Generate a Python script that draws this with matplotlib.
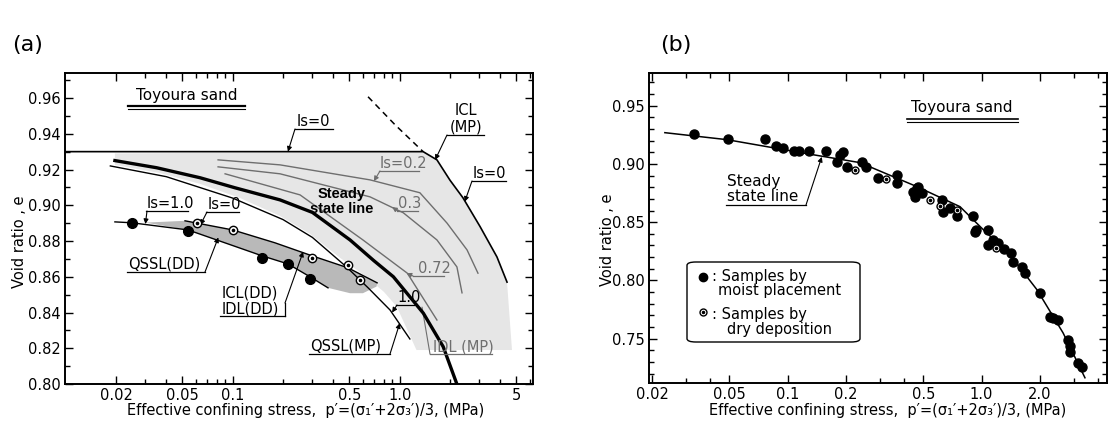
import matplotlib
matplotlib.use("Agg")
import matplotlib.pyplot as plt
from matplotlib.lines import Line2D
from matplotlib.patches import FancyBboxPatch
from matplotlib.ticker import FixedLocator, FixedFormatter, NullFormatter

plt.rcParams['font.family'] = ['DejaVu Sans']

W, H = 1110, 423

# ---------- (a) moist placement (MP) / dry deposition (DD) ----------
# ICL(MP): flat Is=0 line at e=0.93, then the curved part
icl_mp_p = [0.0099, 1.38, 1.67, 2.00, 2.39, 3.03, 3.82, 4.39]
icl_mp_e = [0.930, 0.930, 0.9254, 0.914, 0.9042, 0.888, 0.8711, 0.857]
icl_dash_p = [0.646, 0.938, 1.38]
icl_dash_e = [0.9607, 0.945, 0.930]

# steady state line
ssl_a_p = [0.0197, 0.035, 0.0637, 0.103, 0.192, 0.30, 0.504, 0.70, 0.916, 1.385, 1.82, 2.19]
ssl_a_e = [0.925, 0.921, 0.9154, 0.9098, 0.903, 0.896, 0.8806, 0.869, 0.860, 0.8396, 0.8209, 0.8004]

# QSSL(MP)
qssl_mp_p = [0.0185, 0.04, 0.1, 0.2, 0.3, 0.48, 0.65, 0.875, 1.15]
qssl_mp_e = [0.922, 0.916, 0.904, 0.892, 0.882, 0.8655, 0.8536, 0.8414, 0.8252]

# constant Is curves (MP)
is02_p = [0.0817, 0.192, 0.664, 1.32, 1.92, 2.53, 2.94]
is02_e = [0.9254, 0.9226, 0.9142, 0.907, 0.890, 0.875, 0.862]
is03_p = [0.0817, 0.192, 0.664, 1.05, 1.67, 2.20, 2.36]
is03_e = [0.9215, 0.9176, 0.9047, 0.8958, 0.8806, 0.8655, 0.851]
is072_p = [0.090, 0.253, 0.602, 1.11, 1.67]
is072_e = [0.9176, 0.9058, 0.8806, 0.862, 0.8358]

# MP zone between Is=0 and Is=1.0
mp_zone_p = [0.0197, 1.38, 1.67, 2.00, 2.39, 3.03, 3.82, 4.39, 4.70, 1.26, 0.96,
             0.805, 0.620, 0.439, 0.290, 0.192, 0.111, 0.0637, 0.0367, 0.0197]
mp_zone_e = [0.929, 0.930, 0.9254, 0.914, 0.9042, 0.888, 0.8711, 0.857, 0.819, 0.819, 0.8433,
             0.8515, 0.8605, 0.8706, 0.884, 0.894, 0.904, 0.912, 0.918, 0.9226]

# DD lines: Is=0 (upper) and Is=1.0 (lower)
dd_upper_p = [0.0518, 0.100, 0.179, 0.299, 0.49, 0.732]
dd_upper_e = [0.8913, 0.8862, 0.879, 0.8717, 0.865, 0.8566]
dd_lower_p = [0.0197, 0.0249, 0.054, 0.150, 0.214, 0.290, 0.372]
dd_lower_e = [0.8907, 0.8902, 0.8862, 0.8717, 0.8672, 0.860, 0.8538]
dd_band_p = [0.030, 0.0518, 0.100, 0.179, 0.299, 0.49, 0.732, 0.726, 0.602, 0.504,
             0.372, 0.290, 0.214, 0.150, 0.054, 0.030]
dd_band_e = [0.8903, 0.8913, 0.8862, 0.879, 0.8717, 0.865, 0.8566, 0.8545, 0.8508, 0.8508,
             0.8538, 0.860, 0.8672, 0.8717, 0.8862, 0.8903]

# test points
dd_fill_p = [0.0249, 0.054, 0.150, 0.214, 0.290]
dd_fill_e = [0.890, 0.8857, 0.8706, 0.8672, 0.8588]
dd_open_p = [0.061, 0.100, 0.299, 0.49, 0.578]
dd_open_e = [0.8902, 0.8862, 0.8706, 0.8666, 0.8582]

a_xticks = [0.02, 0.05, 0.1, 0.5, 1, 5]
a_xlabels = ['0.02', '0.05', '0.1', '0.5', '1.0', '5']
a_xminor = [0.03, 0.04, 0.06, 0.07, 0.08, 0.09, 0.2, 0.3, 0.4, 0.6, 0.7, 0.8, 0.9, 2, 3, 4, 6]
a_yticks = [0.80, 0.82, 0.84, 0.86, 0.88, 0.90, 0.92, 0.94, 0.96]

# ---------- (b) steady state line ----------
ssl_b_p = [0.0233, 0.0487, 0.135, 0.236, 0.464, 0.774, 1.0, 1.40, 1.93, 2.63, 3.41]
ssl_b_e = [0.9268, 0.9208, 0.9079, 0.9011, 0.8805, 0.8633, 0.845, 0.822, 0.792, 0.755, 0.7165]

moist_p = [0.0329, 0.0493, 0.0764, 0.0871, 0.0946, 0.108, 0.114, 0.129, 0.158, 0.180,
           0.186, 0.193, 0.202, 0.242, 0.254, 0.292, 0.366, 0.368, 0.443, 0.464,
           0.470, 0.452, 0.493, 0.625, 0.632, 0.687, 0.747, 0.903, 0.924, 0.935,
           1.08, 1.08, 1.15, 1.22, 1.30, 1.42, 1.45, 1.61, 1.67, 2.00,
           2.25, 2.33, 2.48, 2.79, 2.86, 2.86, 3.14, 3.29]
moist_e = [0.926, 0.9217, 0.9217, 0.9157, 0.914, 0.9114, 0.9114, 0.9114, 0.9114, 0.902,
           0.908, 0.910, 0.8976, 0.902, 0.8976, 0.888, 0.8908, 0.884, 0.8762, 0.8796,
           0.8805, 0.8719, 0.8753, 0.8693, 0.859, 0.8625, 0.8556, 0.8556, 0.8418, 0.8436,
           0.8436, 0.8307, 0.835, 0.8324, 0.8273, 0.8238, 0.816, 0.8118, 0.8067, 0.7895,
           0.7689, 0.768, 0.7663, 0.7491, 0.744, 0.7388, 0.7294, 0.726]
dry_p = [0.222, 0.321, 0.542, 0.611, 0.747, 1.19]
dry_e = [0.895, 0.8873, 0.8693, 0.8642, 0.8607, 0.8281]

b_xticks = [0.02, 0.05, 0.1, 0.2, 0.5, 1, 2]
b_xlabels = ['0.02', '0.05', '0.1', '0.2', '0.5', '1.0', '2.0']
b_xminor = [0.03, 0.04, 0.3, 0.4, 3, 4]
b_yticks = [0.75, 0.80, 0.85, 0.90, 0.95]

LIGHT = '#e6e6e6'
DARK = '#b9b9b9'
GREY = '#6e6e6e'
FS = 10.5
XLABEL = "Effective confining stress,  p\u2032=(\u03c3\u2081\u2032+2\u03c3\u2083\u2032)/3, (MPa)"

fig = plt.figure(figsize=(W / 100, H / 100), dpi=100)


def fxy(x, y):
    return x / W, 1 - y / H


def hline(x0, x1, y, color='k', lw=0.9):
    fig.add_artist(Line2D([x0 / W, x1 / W], [1 - y / H] * 2,
                          transform=fig.transFigure, color=color, lw=lw))


def leader(ax, start, tip, color='k', head=True):
    ax.annotate('', xy=tip, xycoords='data', xytext=fxy(*start),
                textcoords='figure fraction',
                arrowprops=dict(arrowstyle='-|>' if head else '-', color=color, lw=0.8,
                                mutation_scale=7, shrinkA=0, shrinkB=0))


def tag(ax, text, x, y, ux, uy, start, tip, color='k', head=True):
    fig.text(*fxy(x, y), text, ha='left', va='baseline', fontsize=FS, color=color)
    hline(ux[0], ux[1], uy, color=color)
    leader(ax, start, tip, color, head)


def setup(ax, xlim, ylim, xt, xl, xm, yt, ylab):
    ax.set_xscale('log')
    ax.set_xlim(*xlim)
    ax.set_ylim(*ylim)
    ax.xaxis.set_major_locator(FixedLocator(xt))
    ax.xaxis.set_major_formatter(FixedFormatter(xl))
    ax.xaxis.set_minor_locator(FixedLocator(xm))
    ax.xaxis.set_minor_formatter(NullFormatter())
    ax.yaxis.set_major_locator(FixedLocator(yt))
    ax.yaxis.set_major_formatter(FixedFormatter(ylab))
    step = 0.01
    n0 = int(round(ylim[0] / step)) + 1
    n1 = int(round(ylim[1] / step))
    ax.yaxis.set_minor_locator(FixedLocator([i * step for i in range(n0, n1 + 1)]))
    ax.tick_params(which='both', direction='in', top=True, right=True, labelsize=FS, width=1)
    ax.tick_params(which='major', length=6, pad=3)
    ax.tick_params(which='minor', length=3.5)
    for s in ax.spines.values():
        s.set_linewidth(1.4)


def open_dots(ax, p, e, ms):
    ax.plot(p, e, 'o', ms=ms, mfc='white', mec='k', mew=1.0, zorder=6)
    ax.plot(p, e, 'o', ms=1.6, mfc='k', mec='k', zorder=7)


# ======================= panel (a) =======================
ax = fig.add_axes([65 / W, 1 - 384 / H, 468 / W, 311 / H])
setup(ax, (0.0099, 6.28), (0.80, 0.974), a_xticks, a_xlabels, a_xminor,
      a_yticks, ['%.2f' % v for v in a_yticks])

ax.fill(mp_zone_p, mp_zone_e, color=LIGHT, lw=0, zorder=1)
ax.fill(dd_band_p, dd_band_e, color=DARK, lw=0, zorder=2)
for p, e in [(is02_p, is02_e), (is03_p, is03_e), (is072_p, is072_e)]:
    ax.plot(p, e, color=GREY, lw=1.0, zorder=3)
ax.plot(icl_mp_p, icl_mp_e, color='k', lw=1.2, zorder=4)
ax.plot(icl_dash_p, icl_dash_e, color='k', lw=1.1, ls=(0, (4, 3)), zorder=4)
ax.plot(ssl_a_p, ssl_a_e, color='k', lw=2.4, zorder=4)
ax.plot(qssl_mp_p, qssl_mp_e, color='k', lw=1.0, zorder=4)
ax.plot(dd_upper_p, dd_upper_e, color='k', lw=1.0, zorder=4)
ax.plot(dd_lower_p, dd_lower_e, color='k', lw=1.0, zorder=4)
ax.plot(dd_fill_p, dd_fill_e, 'o', ms=7, color='k', zorder=6)
open_dots(ax, dd_open_p, dd_open_e, 6)

fig.text(*fxy(187, 100), 'Toyoura sand', ha='center', va='baseline', fontsize=FS + 0.5)
hline(128, 245, 106, lw=1.6)
hline(128, 245, 109, lw=0.8)

tag(ax, 'Is=0', 297, 126, (295, 333), 129, (295, 129), (0.214, 0.930))
fig.text(*fxy(466, 115), 'ICL', ha='center', va='baseline', fontsize=FS)
fig.text(*fxy(466, 132), '(MP)', ha='center', va='baseline', fontsize=FS)
hline(447, 484, 135)
leader(ax, (447, 135), (1.63, 0.9254))
tag(ax, 'Is=0', 473, 178, (472, 506), 181, (472, 181), (2.45, 0.902))
tag(ax, 'Is=0.2', 380, 168, (379, 419), 171, (380, 171), (0.70, 0.9135), GREY)
tag(ax, '0.3', 398, 208, (397, 418), 211, (398, 211), (0.90, 0.899), GREY)
fig.text(*fxy(342, 198), 'Steady', ha='center', va='baseline', fontsize=10.5,
         fontweight='bold', family='Liberation Sans')
fig.text(*fxy(342, 213), 'state line', ha='center', va='baseline', fontsize=10.5,
         fontweight='bold', family='Liberation Sans')
tag(ax, 'Is=1.0', 147, 208, (146, 188), 211, (147, 211), (0.030, 0.8895))
tag(ax, 'Is=0', 208, 209, (206, 239), 212, (207, 212), (0.064, 0.889))
tag(ax, 'QSSL(DD)', 128, 268, (127, 205), 272, (205, 272), (0.082, 0.882))
fig.text(*fxy(222, 297), 'ICL(DD)', ha='left', va='baseline', fontsize=FS)
fig.text(*fxy(222, 313), 'IDL(DD)', ha='left', va='baseline', fontsize=FS)
hline(220, 285, 316)
fig.add_artist(Line2D([285 / W] * 2, [1 - 316 / H, 1 - 303 / H],
                      transform=fig.transFigure, color='k', lw=0.9))
leader(ax, (285, 303), (0.264, 0.874))
tag(ax, '1.0', 397, 302, (396, 414), 305, (397, 305), (0.90, 0.840))
tag(ax, '0.72', 418, 273, (413, 444), 276, (413, 276), (1.10, 0.862), GREY)
tag(ax, 'QSSL(MP)', 310, 350, (309, 390), 354, (390, 354), (1.0, 0.834))
tag(ax, 'IDL (MP)', 433, 351, (430, 492), 354, (430, 354), (1.36, 0.843), GREY, head=False)

fig.text(*fxy(20, 242), 'Void ratio , e', rotation=90, ha='center', va='center', fontsize=FS)
fig.text(*fxy(306, 410), XLABEL, ha='center', va='center', fontsize=FS)
fig.text(*fxy(28, 45), '(a)', ha='center', va='center', fontsize=16)

# ======================= panel (b) =======================
bx = fig.add_axes([649 / W, 1 - 383 / H, 458 / W, 310 / H])
setup(bx, (0.0193, 4.43), (0.712, 0.978), b_xticks, b_xlabels, b_xminor,
      b_yticks, ['%.2f' % v for v in b_yticks])

bx.plot(ssl_b_p, ssl_b_e, color='k', lw=1.1, zorder=3)
bx.plot(moist_p, moist_e, 'o', ms=6.5, color='k', zorder=5)
open_dots(bx, dry_p, dry_e, 5)

fig.text(*fxy(962, 112), 'Toyoura sand', ha='center', va='baseline', fontsize=FS + 0.5)
hline(907, 1018, 119, lw=1.2)
hline(907, 1018, 122, lw=0.8)

fig.text(*fxy(727, 186), 'Steady', ha='left', va='baseline', fontsize=FS + 0.5)
fig.text(*fxy(727, 201), 'state line', ha='left', va='baseline', fontsize=FS + 0.5)
hline(726, 806, 205)
leader(bx, (806, 205), (0.15, 0.906))

box = FancyBboxPatch((687 / W, 1 - 342 / H), 173 / W, 80 / H,
                     boxstyle='round,pad=0,rounding_size=0.008',
                     transform=fig.transFigure, fc='white', ec='k', lw=1.0)
fig.add_artist(box)
fig.add_artist(Line2D([703 / W], [1 - 277 / H], marker='o', ms=6, color='k',
                      transform=fig.transFigure))
fig.add_artist(Line2D([703 / W], [1 - 312 / H], marker='o', ms=5, mfc='white', mec='k',
                      transform=fig.transFigure))
fig.add_artist(Line2D([703 / W], [1 - 312 / H], marker='o', ms=1.5, color='k',
                      transform=fig.transFigure))
fig.text(*fxy(712, 277), ': Samples by', ha='left', va='center', fontsize=FS)
fig.text(*fxy(718, 291), 'moist placement', ha='left', va='center', fontsize=FS)
fig.text(*fxy(712, 315), ': Samples by', ha='left', va='center', fontsize=FS)
fig.text(*fxy(727, 329), 'dry deposition', ha='left', va='center', fontsize=FS)

fig.text(*fxy(607, 240), 'Void ratio , e', rotation=90, ha='center', va='center', fontsize=FS)
fig.text(*fxy(888, 410), XLABEL, ha='center', va='center', fontsize=FS)
fig.text(*fxy(676, 45), '(b)', ha='center', va='center', fontsize=16)

fig.savefig('out.png', dpi=100)
